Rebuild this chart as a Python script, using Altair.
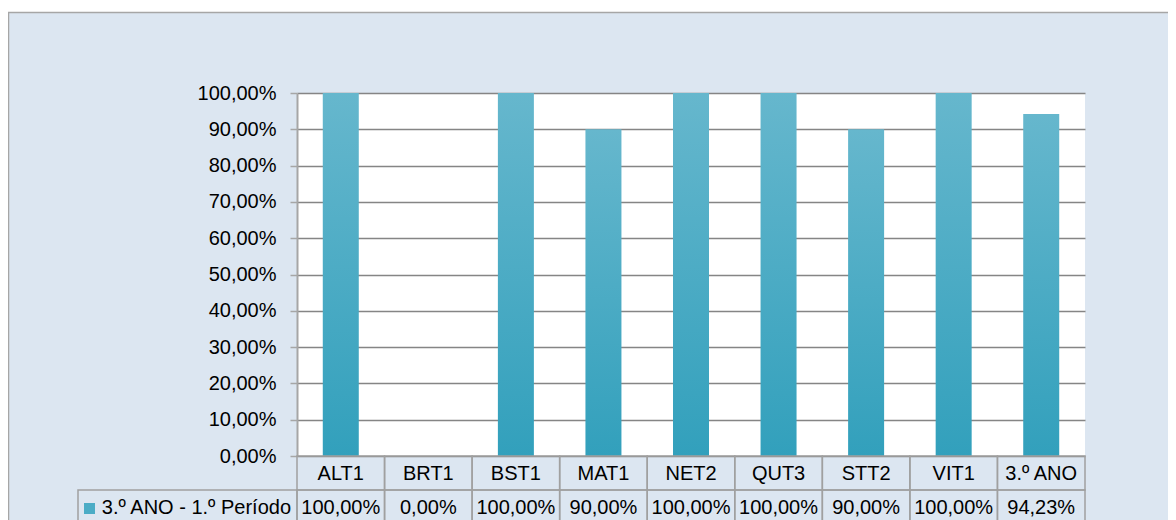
import altair as alt
import pandas as pd

categories = ["ALT1", "BRT1", "BST1", "MAT1", "NET2", "QUT3", "STT2", "VIT1", "3.º ANO"]
values = [100.0, 0.0, 100.0, 90.0, 100.0, 100.0, 90.0, 100.0, 94.23]
series_name = "3.º ANO - 1.º Período"
y_ticks = [0, 10, 20, 30, 40, 50, 60, 70, 80, 90, 100]

df = pd.DataFrame({"cat": categories, "value": values})
FONT = "Liberation Sans"
FS = 20
W, H = 788, 363
GRAY = "#a0a0a0"

base = alt.Chart(df).transform_calculate(
    label="replace(format(datum.value, '.2f'), '.', ',') + '%'"
)
xenc = alt.X("cat:N", sort=categories, scale=alt.Scale(paddingInner=0, paddingOuter=0), axis=None)

grad = alt.Gradient(
    gradient="linear",
    stops=[alt.GradientStop(color="#66b7cd", offset=0), alt.GradientStop(color="#32a0bc", offset=1)],
    x1=0, x2=0, y1=0, y2=1,
)

bars = base.mark_bar(size=36, color=grad).encode(
    x=xenc,
    y=alt.Y("value:Q", scale=alt.Scale(domain=[0, 100]),
            axis=alt.Axis(values=y_ticks, title=None,
                          labelExpr="replace(format(datum.value, '.2f'), '.', ',') + '%'")),
)

row1 = base.mark_rect(fill="transparent", stroke=GRAY, strokeWidth=1.5).encode(
    x=xenc, y=alt.value(H), y2=alt.value(H + 34))
row2 = base.mark_rect(fill="transparent", stroke=GRAY, strokeWidth=1.5).encode(
    x=xenc, y=alt.value(H + 34), y2=alt.value(H + 68))
cat_text = base.mark_text(font=FONT, fontSize=FS, color="#000000", baseline="middle").encode(
    x=xenc, y=alt.value(H + 18), text="cat:N")
val_text = base.mark_text(font=FONT, fontSize=FS, color="#000000", baseline="middle").encode(
    x=xenc, y=alt.value(H + 52), text="label:N")

leg_df = pd.DataFrame({"series": [series_name]})
leg = alt.Chart(leg_df)
leg_cell = leg.mark_rect(fill="transparent", stroke=GRAY, strokeWidth=1.5).encode(
    x=alt.value(-219), x2=alt.value(0), y=alt.value(H + 34), y2=alt.value(H + 68))
leg_sq = leg.mark_rect(color="#4bacc6").encode(
    x=alt.value(-213), x2=alt.value(-202), y=alt.value(H + 47), y2=alt.value(H + 58))
leg_txt = leg.mark_text(font=FONT, fontSize=FS, color="#000000", align="right", baseline="middle").encode(
    x=alt.value(-6), y=alt.value(H + 52), text="series:N")

top_white = leg.mark_rect(color="white").encode(
    x=alt.value(-289), x2=alt.value(W + 83), y=alt.value(-85), y2=alt.value(-81))
frame = leg.mark_rect(fill="transparent", stroke="#a6a6a6", strokeWidth=1.5).encode(
    x=alt.value(-288.5), x2=alt.value(W + 100), y=alt.value(-80.5), y2=alt.value(H + 120))

chart = alt.layer(
    top_white, frame, bars, row1, row2, cat_text, val_text, leg_cell, leg_sq, leg_txt
).properties(
    width=W, height=H,
    padding={"left": 289, "top": 85, "right": 83, "bottom": 64},
    autosize=alt.AutoSizeParams(type="none"),
    background="#dce6f1",
).configure_view(
    fill="white", stroke=None
).configure_axis(
    labelFont=FONT, labelFontSize=FS, labelColor="#000000", labelPadding=14,
    domainColor="#a6a6a6", domainWidth=2, tickColor="#a6a6a6", tickSize=7, tickWidth=1.5,
    gridColor="#858585", gridWidth=1.5,
)

chart.save("out.html", embed_options={"renderer": "svg", "actions": False})
